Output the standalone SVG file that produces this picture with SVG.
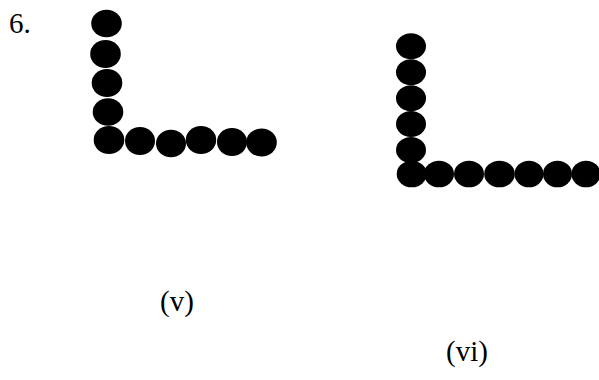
<svg xmlns="http://www.w3.org/2000/svg" width="599" height="380" viewBox="0 0 599 380">
<style>
.d{fill:#000}
.t{font-family:"Liberation Serif","Times New Roman",serif;font-size:29px;fill:#000}
</style>
<rect width="599" height="380" fill="#fff"/>
<text class="t" x="9" y="33">6.</text>
<g id="figure-v">
<ellipse class="d" cx="106.5" cy="23.5" rx="15.3" ry="13.7"/>
<ellipse class="d" cx="105.5" cy="54" rx="15.3" ry="14"/>
<ellipse class="d" cx="107" cy="83" rx="15.3" ry="14"/>
<ellipse class="d" cx="108" cy="112" rx="15.3" ry="13.8"/>
<ellipse class="d" cx="109" cy="140" rx="15.3" ry="14"/>
<ellipse class="d" cx="140" cy="141" rx="15" ry="14"/>
<ellipse class="d" cx="171" cy="143.5" rx="15" ry="13.8"/>
<ellipse class="d" cx="201" cy="140" rx="15.2" ry="14"/>
<ellipse class="d" cx="232" cy="142" rx="15" ry="14"/>
<ellipse class="d" cx="261.5" cy="142.5" rx="15.3" ry="14"/>
</g>
<g id="figure-vi">
<ellipse class="d" cx="411" cy="46.3" rx="15" ry="13"/>
<ellipse class="d" cx="411" cy="72.3" rx="15" ry="13"/>
<ellipse class="d" cx="411" cy="98.3" rx="15" ry="13"/>
<ellipse class="d" cx="411" cy="124" rx="15" ry="13"/>
<ellipse class="d" cx="411" cy="150" rx="15" ry="13"/>
<ellipse class="d" cx="411.7" cy="174" rx="15" ry="13.3"/>
<ellipse class="d" cx="439" cy="174" rx="15" ry="13.3"/>
<ellipse class="d" cx="469" cy="174" rx="15" ry="13.3"/>
<ellipse class="d" cx="499.5" cy="174" rx="15.3" ry="13.3"/>
<ellipse class="d" cx="529" cy="174" rx="14.5" ry="13.3"/>
<ellipse class="d" cx="557.5" cy="174" rx="14.5" ry="13.3"/>
<ellipse class="d" cx="586" cy="174" rx="14.5" ry="13.3"/>
</g>
<text class="t" x="160" y="311">(v)</text>
<text class="t" x="446" y="361">(vi)</text>
</svg>
